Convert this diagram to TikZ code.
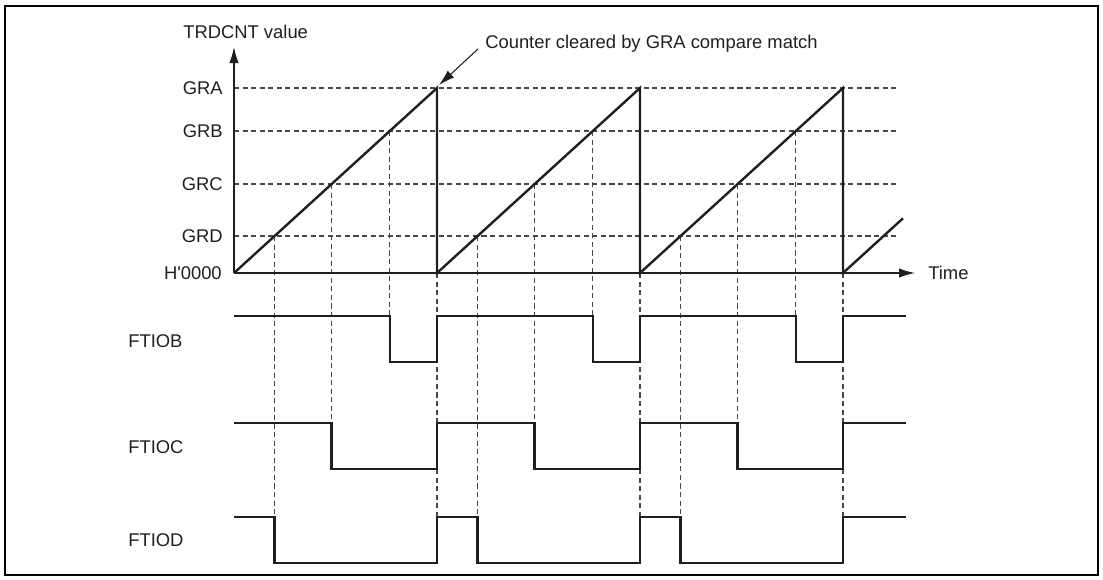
\documentclass[tikz,border=0pt]{standalone}
\usepackage{fontspec}
\setmainfont{Liberation Sans}
\usetikzlibrary{arrows.meta}
\begin{document}
\begin{tikzpicture}[x=0.75pt,y=-0.75pt,
  lbl/.style={font=\fontsize{13.8}{16}\selectfont, inner sep=0pt, text=black!88},
  sig/.style={line width=1.8pt, line join=miter, color=black!88},
  gridline/.style={dash pattern=on 3.8pt off 2.6pt, line width=0.8pt, color=black!72},
  axisline/.style={line width=0.9pt, color=black!88, -{Latex[length=12pt,width=7pt]}},
  frameline/.style={line width=2.2pt}]
\useasboundingbox (0,0) rectangle (1103,579);
\draw[frameline] (5,6) rectangle (1098,575);

% key coordinates
\coordinate (org) at (234,273);
\coordinate (ytip) at (234,47);
\coordinate (xtip) at (915,273);

% horizontal compare levels
\foreach \n/\y in {A/88,B/131,C/184,D/236}{
  \coordinate (L\n) at (234,\y);
  \coordinate (R\n) at (898,\y);
  \draw[gridline] (L\n) -- (R\n);
}

% vertical dashed lines
\foreach \k in {0,1,2}{
  \pgfmathsetmacro{\b}{234+203*\k}
  \pgfmathsetmacro{\xd}{\b+40.6}
  \pgfmathsetmacro{\xc}{\b+97.44}
  \pgfmathsetmacro{\xb}{\b+155.9}
  \pgfmathsetmacro{\xr}{\b+203}
  \draw[gridline] (\xd,236) coordinate (vd\k) -- (\xd,517);
  \draw[gridline] (\xc,184) coordinate (vc\k) -- (\xc,423);
  \draw[gridline] (\xb,131) coordinate (vb\k) -- (\xb,316);
  \draw[gridline] (\xr,273) coordinate (vr\k) -- (\xr,517);
}

% axes
\draw[axisline] (org) -- (ytip);
\draw[axisline] (org) -- (xtip);

% counter ramp
\draw[sig] (org) -- (437,88) coordinate (topA) -- (437,273) -- (640,88) -- (640,273) -- (843,88) -- (843,273) -- (903,218.3);

% FTIOB
\draw[sig] (234,316) -- (389.9,316) -- (389.9,362) -- (437,362) -- (437,316)
  -- (592.9,316) -- (592.9,362) -- (640,362) -- (640,316)
  -- (795.9,316) -- (795.9,362) -- (843,362) -- (843,316) -- (906,316);
% FTIOC
\draw[sig] (234,423) -- (331.44,423) -- (331.44,469) -- (437,469) -- (437,423)
  -- (534.44,423) -- (534.44,469) -- (640,469) -- (640,423)
  -- (737.44,423) -- (737.44,469) -- (843,469) -- (843,423) -- (906,423);
% FTIOD
\draw[sig] (234,517) -- (274.6,517) -- (274.6,563) -- (437,563) -- (437,517)
  -- (477.6,517) -- (477.6,563) -- (640,563) -- (640,517)
  -- (680.6,517) -- (680.6,563) -- (843,563) -- (843,517) -- (906,517);

% labels
\node[lbl, anchor=west] (ylabel) at (183,32) {TRDCNT value};
\node[lbl, anchor=east] (gra) at (223,88) {GRA};
\node[lbl, anchor=east] (grb) at (223,131) {GRB};
\node[lbl, anchor=east] (grc) at (223,184) {GRC};
\node[lbl, anchor=east] (grd) at (223,236) {GRD};
\node[lbl, anchor=east] (zero) at (222,273) {H\textquotesingle 0000};
\node[lbl, anchor=west] (time) at (928,273) {Time};
\node[lbl, anchor=west] (ftiob) at (128,341) {FTIOB};
\node[lbl, anchor=west] (ftioc) at (128,447) {FTIOC};
\node[lbl, anchor=west] (ftiod) at (128,540) {FTIOD};
\node[lbl, anchor=west] (note) at (485,44) {Counter cleared by GRA compare match};

% annotation arrow
\coordinate (annstart) at (478,49);
\coordinate (anntip) at (439,85);
\draw[line width=0.8pt, color=black!88, -{Latex[length=12pt,width=7pt]}] (annstart) -- (anntip);
\end{tikzpicture}
\end{document}
